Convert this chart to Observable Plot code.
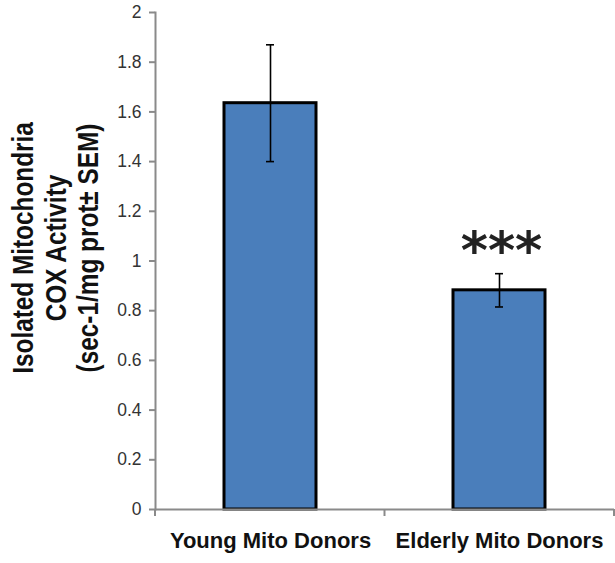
<!DOCTYPE html>
<html><head><meta charset="utf-8">
<script src="https://cdn.jsdelivr.net/npm/d3@7"></script>
<script src="https://cdn.jsdelivr.net/npm/@observablehq/plot@0.6"></script>
<style>body{margin:0;background:#fff}</style>
</head><body><div id="chart"></div>
<script>
const groups = ["Young Mito Donors", "Elderly Mito Donors"];
const means = [1.635, 0.882];
const sems = [0.235, 0.067];
const stars = ["", "***"];
const yTicks = [0, 0.2, 0.4, 0.6, 0.8, 1, 1.2, 1.4, 1.6, 1.8, 2];
const yLabelLines = ["Isolated Mitochondria", "COX Activity", "(sec-1/mg prot\u00B1 SEM)"];

const data = groups.map((g, i) => ({group: g, mean: means[i], lo: means[i] - sems[i], hi: means[i] + sems[i], star: stars[i]}));
const axisGray = "#8a8a8a";

const plot = Plot.plot({
  width: 615,
  height: 563,
  marginLeft: 155,
  marginRight: 1,
  marginTop: 12,
  marginBottom: 54,
  style: {background: "#fff", fontFamily: "Liberation Sans, Arial, sans-serif"},
  x: {domain: groups, paddingInner: 0.6, paddingOuter: 0.3, label: null},
  y: {domain: [0, 2], label: null},
  marks: [
    Plot.barY(data, {x: "group", y: "mean", fill: "#4a7ebb", stroke: "#000", strokeWidth: 3}),
    Plot.ruleX(data, {x: "group", y1: "lo", y2: "hi", stroke: "#000", strokeWidth: 1.6}),
    Plot.tickY(data, {x: "group", y: "hi", stroke: "#000", strokeWidth: 1.6, insetLeft: 42, insetRight: 42}),
    Plot.tickY(data, {x: "group", y: "lo", stroke: "#000", strokeWidth: 1.6, insetLeft: 42, insetRight: 42}),
    Plot.text(data, {x: "group", y: "hi", text: "star", dx: 2, dy: -22, fontSize: 52, fontWeight: "bold", fontFamily: "DejaVu Sans", fill: "#222"}),
    Plot.ruleY([0], {stroke: axisGray, strokeWidth: 2}),
    Plot.frame({anchor: "left", stroke: axisGray, strokeWidth: 2}),
    Plot.axisY({ticks: yTicks, tickSize: 6, tickPadding: 8, stroke: axisGray, strokeWidth: 2, fill: "#333", fontSize: 17.5, label: null, tickFormat: d => String(d)}),
    Plot.axisX({tickSize: 0, tickPadding: 23, fontSize: 22, fontWeight: "bold", fill: "#111", label: null}),
    Plot.text([yLabelLines.join("\n")], {frameAnchor: "left", textAnchor: "middle", rotate: -90, dx: -100, dy: -13, fontSize: 29, lineHeight: 1.12, fontWeight: "bold", fill: "#111", className: "ylab"})
  ]
});

// Condense the y-axis title along its reading direction (narrow bold face in the original)
d3.select(plot).selectAll(".ylab text").attr("transform", function () {
  return (this.getAttribute("transform") || "") + " scale(0.84,1)";
});

// Category boundary ticks below the x axis, derived from the x band scale
const xs = plot.scale("x");
const ys = plot.scale("y");
const centers = xs.domain.map(d => xs.apply(d) + xs.bandwidth / 2);
const edges = [xs.range[0]];
for (let i = 1; i < centers.length; i++) edges.push((centers[i - 1] + centers[i]) / 2);
edges.push(xs.range[1]);
const y0 = ys.apply(0);
d3.select(plot).append("g")
  .selectAll("line").data(edges).join("line")
  .attr("x1", d => d).attr("x2", d => d)
  .attr("y1", y0).attr("y2", y0 + 7)
  .attr("stroke", axisGray).attr("stroke-width", 2);

document.getElementById("chart").appendChild(plot);
</script>
</body></html>
